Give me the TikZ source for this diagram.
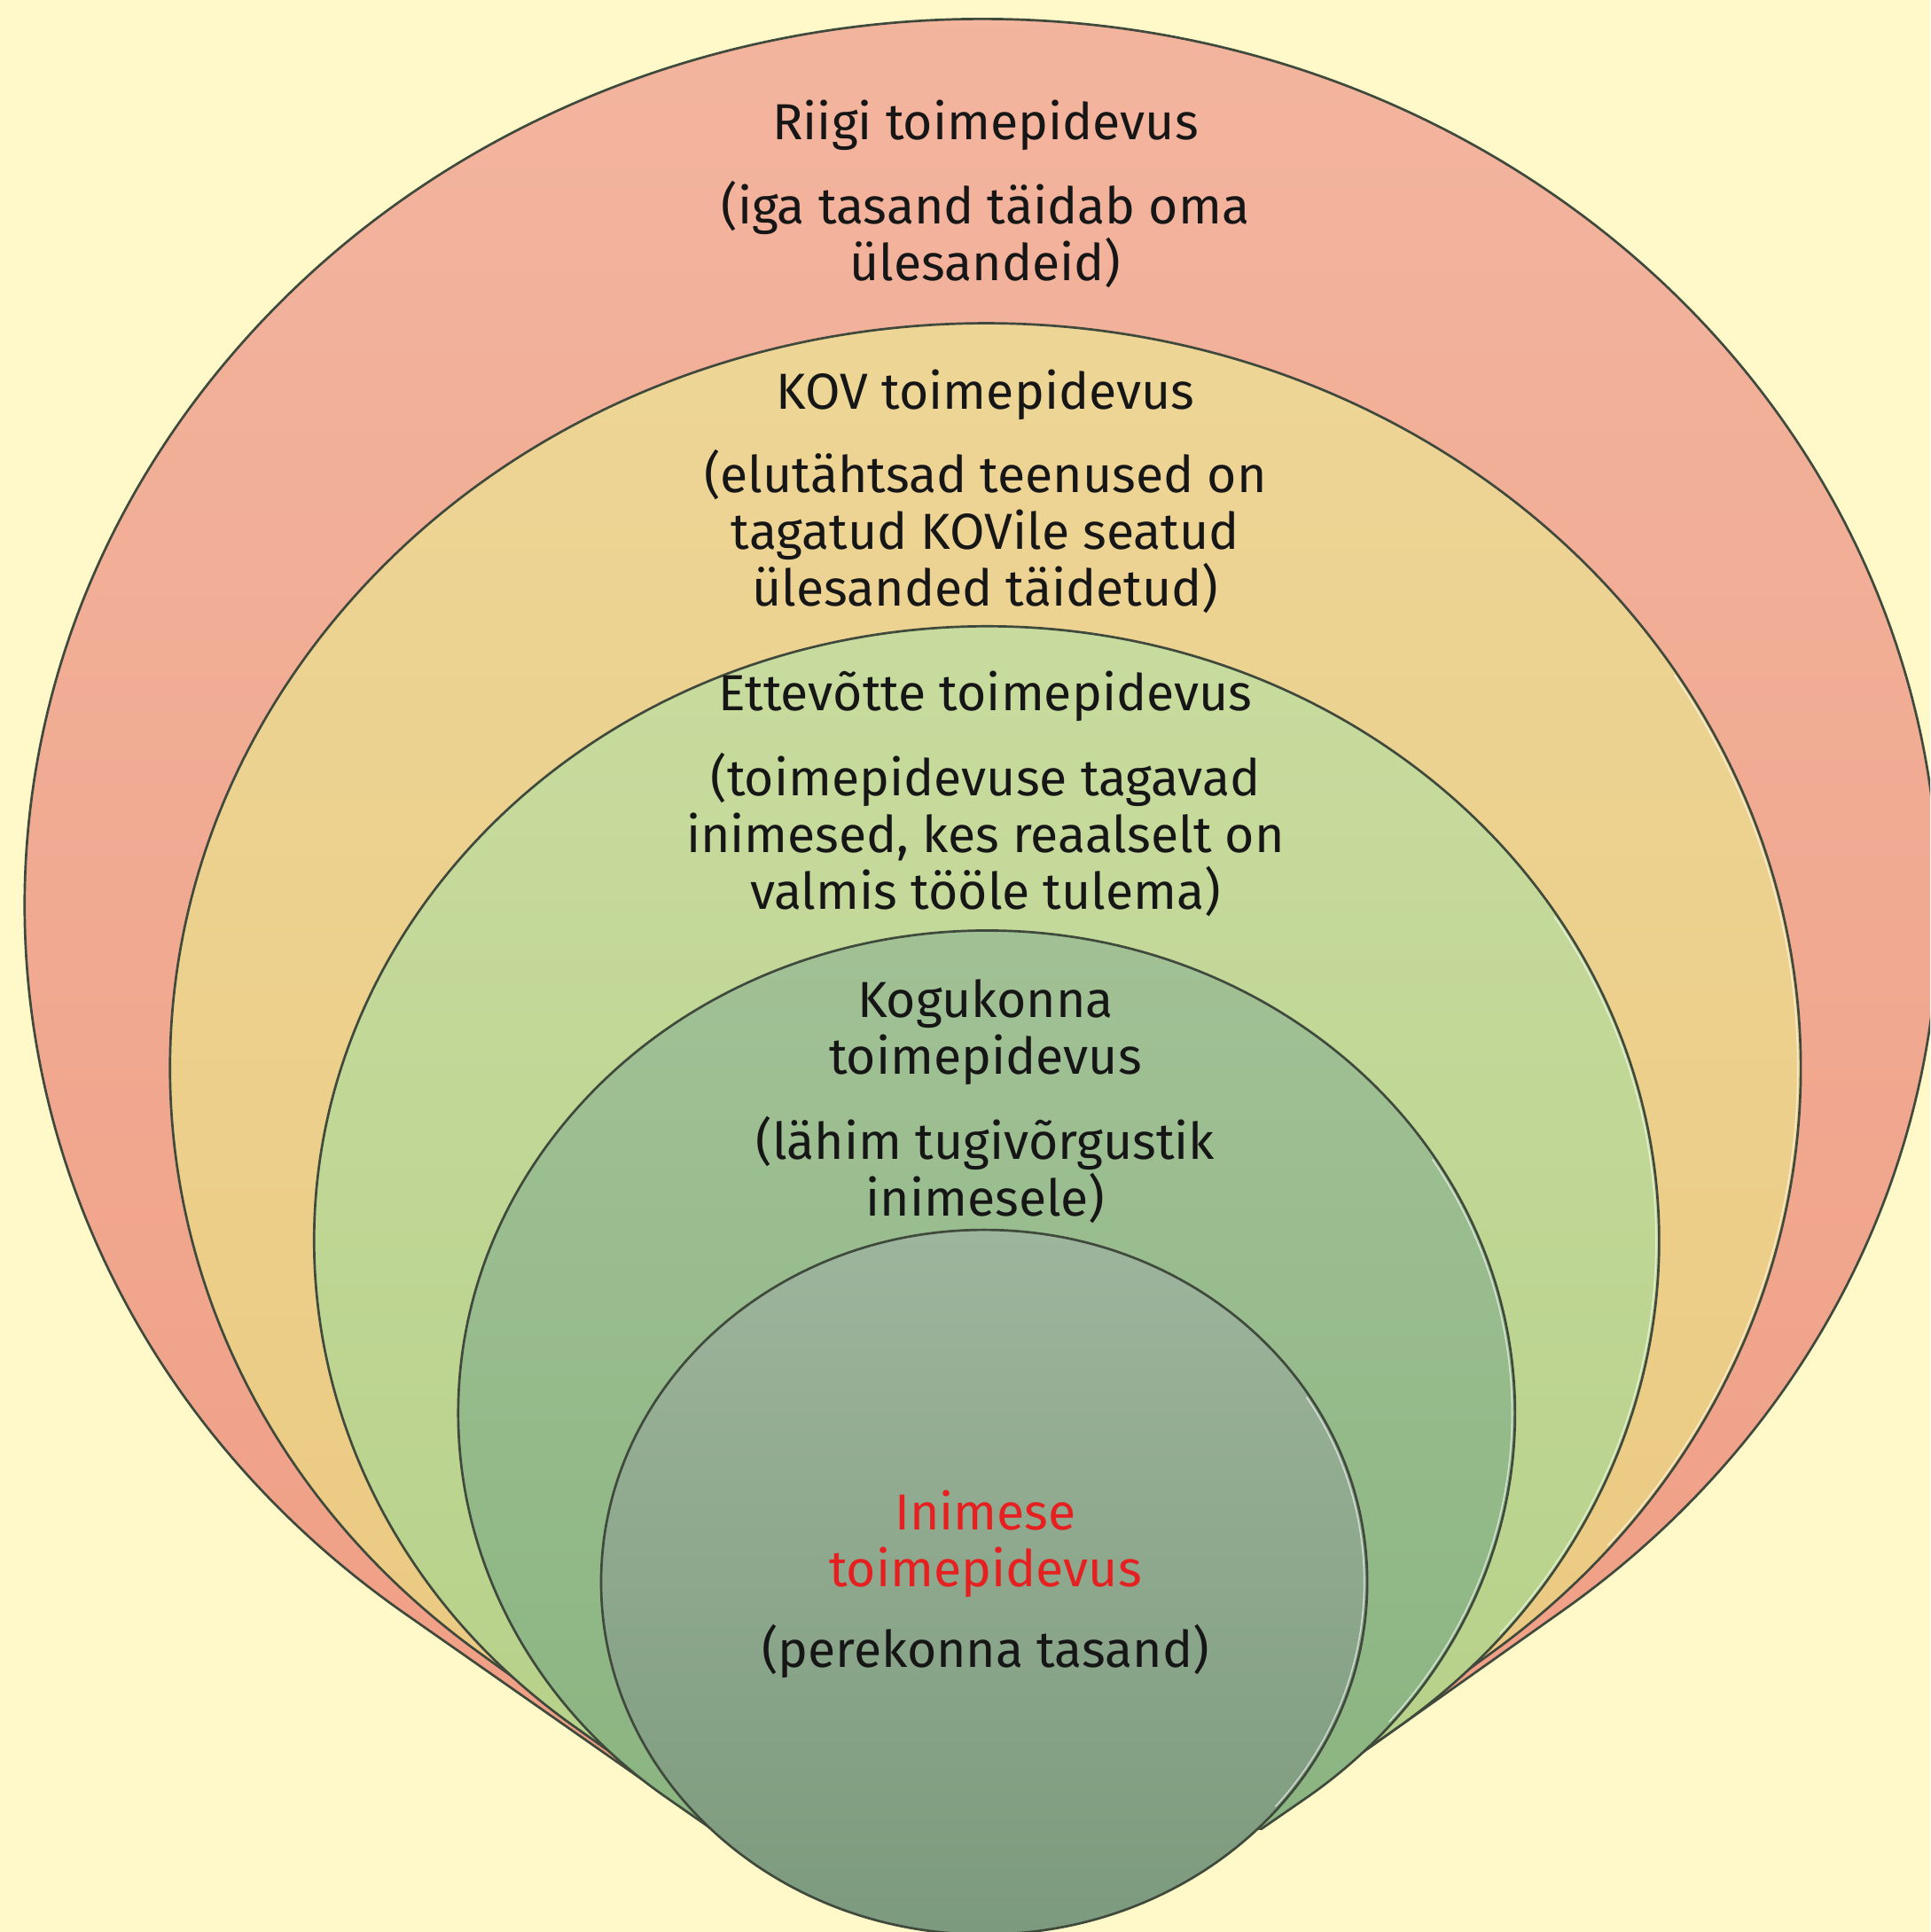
\documentclass[tikz,border=0pt]{standalone}
\usepackage{fontspec}
\setmainfont{Fira Sans}
\definecolor{bgc}{HTML}{FFF8C8}
\definecolor{edgec}{HTML}{3F4A3C}
\definecolor{txtc}{HTML}{161616}
\definecolor{redc}{HTML}{E62020}
\definecolor{lat}{HTML}{F3B6A0}
\definecolor{lab}{HTML}{EF9C82}
\definecolor{lbt}{HTML}{EDD698}
\definecolor{lbb}{HTML}{EBC87D}
\definecolor{lct}{HTML}{C9DCA0}
\definecolor{lcb}{HTML}{B3CF85}
\definecolor{ldt}{HTML}{A3C297}
\definecolor{ldb}{HTML}{86B27D}
\definecolor{let}{HTML}{9DB59C}
\definecolor{leb}{HTML}{7C9A7D}
\newcommand\drawlayer[7]{%
  \pgfmathsetmacro\lyA{asin(#5/(#3+71))}%
  \pgfmathsetmacro\lyX{#2-#4*cos(\lyA)}%
  \pgfmathsetmacro\lyY{#3-#5*sin(\lyA)}%
  \path[layer, top color=#6, bottom color=#7] (\lyX,\lyY)
    arc[start angle=180+\lyA, end angle=-\lyA, x radius=#4, y radius=#5]
    -- (800,-71) -- cycle;
  \coordinate (#1) at (#2,#3);
}
\newcommand\shine[4]{%
  \draw[shineline] (#1,#2) ++(32:#3-2.5 and #4-2.5)
    arc[start angle=32, end angle=-40, x radius=#3-2.5, y radius=#4-2.5];
}
\begin{document}
\begin{tikzpicture}[x=0.01cm, y=0.01cm,
  layer/.style={draw=edgec, line width=0.55pt},
  shineline/.style={draw=white, line width=0.3pt, opacity=0.6},
  txt/.style={font=\fontsize{11.7}{13.1}\selectfont, text=txtc, align=center, inner sep=0pt, anchor=north}]
\useasboundingbox (0,0) rectangle (1567,1568.4);
\clip (0,0) rectangle (1567,1568.4);
\fill[bgc] (0,0) rectangle (1567,1568.4);
\drawlayer{c1}{797}{833}{777}{720}{lat}{lab}
\drawlayer{c2}{800}{701}{662}{605}{lbt}{lbb}
\shine{800}{701}{662}{605}
\drawlayer{c3}{801}{561}{546}{499}{lct}{lcb}
\shine{801}{561}{546}{499}
\drawlayer{c4}{801}{421}{429}{392}{ldt}{ldb}
\shine{801}{421}{429}{392}
\fill[bgc] (0,-20) rectangle (1567,83);
\path[layer, top color=let, bottom color=leb] (799,284) ellipse[x radius=311, y radius=286];
\shine{799}{284}{311}{286}
\node[txt] (t1) at (800,1488) {Riigi toimepidevus};
\node[txt] (p1) at (800,1422) {(iga tasand täidab oma\\ülesandeid)};
\node[txt] (t2) at (800,1269) {KOV toimepidevus};
\node[txt] (p2) at (800,1204) {(elutähtsad teenused on\\tagatud KOVile seatud\\ülesanded täidetud)};
\node[txt] (t3) at (800,1024) {Ettevõtte toimepidevus};
\node[txt] (p3) at (800,958) {(toimepidevuse tagavad\\inimesed, kes reaalselt on\\valmis tööle tulema)};
\node[txt] (t4) at (800,774) {Kogukonna\\toimepidevus};
\node[txt] (p4) at (800,663) {(lähim tugivõrgustik\\inimesele)};
\node[txt, text=redc] (t5) at (800,359) {Inimese\\toimepidevus};
\node[txt] (p5) at (800,250) {(perekonna tasand)};
\end{tikzpicture}
\end{document}
